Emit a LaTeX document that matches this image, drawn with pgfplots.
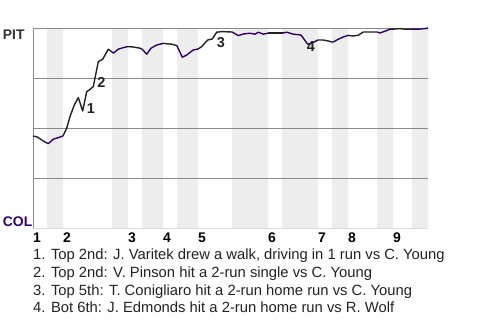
\documentclass[border=0pt]{standalone}
\usepackage{pgfplots}
\pgfplotsset{compat=1.18}
\usepackage{fontspec}
\setmainfont{Liberation Sans}

\definecolor{bandgray}{HTML}{EDEDED}
\definecolor{gridgray}{HTML}{8A8A8A}
\definecolor{pitblack}{HTML}{222222}
\definecolor{colpurple}{HTML}{33006F}
\definecolor{labgray}{HTML}{333333}

\pgfplotsset{
  tophalf/.style={color=pitblack, line width=1.4bp, line join=round, no marks},
  bothalf/.style={color=colpurple, line width=1.4bp, line join=round, no marks},
}

\begin{document}
\begin{tikzpicture}
\begin{axis}[
  set layers,
  at={(0,0)}, anchor=south west,
  scale only axis,
  width=395bp, height=200bp,
  xmin=0, xmax=395, ymin=0, ymax=100,
  clip=false,
  axis x line*=bottom, axis y line*=left,
  x axis line style={-, draw=gray!30, line width=0.8bp},
  y axis line style={-, draw=gridgray, line width=0.8bp},
  ytick={25,50,75,100}, yticklabels={},
  ymajorgrids, grid style={gridgray, line width=0.8bp},
  major tick length=0pt,
  xtick={0,30,95,130,165,235,285,315,360},
  xticklabels={\textbf{1},\textbf{2},\textbf{3},\textbf{4},\textbf{5},\textbf{6},\textbf{7},\textbf{8},\textbf{9}},
  xticklabel style={anchor=base west, inner sep=0pt, yshift=-14.7bp,
    font=\fontsize{14}{16}\selectfont\bfseries},
]
% inning bands (bottom halves)
\addplot[on layer=axis background, const plot, fill=bandgray, draw=none] coordinates {
  (0,0) (14,100) (30,0) (79,100) (95,0) (109,100) (130,0) (144,100) (165,0)
  (199,100) (235,0) (249,100) (285,0) (299,100) (315,0) (344,100) (360,0)
  (379,100) (395,100)} \closedcycle;

% win probability (PIT), by half inning
\addplot[tophalf] coordinates {(0,46) (4.3,45.5) (10.3,43.5) (14,42.5)};
\addplot[bothalf] coordinates {(14,42.5) (15.3,42.2) (20.3,44.4) (25.3,45.2) (30,46)};
\addplot[tophalf] coordinates {(30,46) (33.7,49.9) (37,55.7) (41.3,61.5) (45.3,65.2) (49.7,58.5)
  (53.7,68.2) (56.3,69) (60.3,70.7) (65.3,83.2) (69.7,84.4) (75.3,89.4) (79,88)};
\addplot[bothalf] coordinates {(79,88) (80.3,87.4) (85.3,89.4) (90.3,90.2) (95,90.7)};
\addplot[tophalf] coordinates {(95,90.7) (100.3,90.5) (107,89.9) (109,89.5)};
\addplot[bothalf] coordinates {(109,89.5) (113.7,86.9) (118,89.9) (123.7,91.5) (130,92.3)};
\addplot[tophalf] coordinates {(130,92.3) (138.7,91.9) (143.7,91.2) (144,91)};
\addplot[bothalf] coordinates {(144,91) (149.3,85.4) (153.7,86.5) (160.3,89) (165,89.5)};
\addplot[tophalf] coordinates {(165,89.5) (168.7,90.7) (174.7,94) (179.3,94.5) (183.7,97.9) (188.7,98.2) (199,98)};
\addplot[bothalf] coordinates {(199,98) (205.3,96.2) (210.3,97) (217,97.4) (222,96.9) (225.3,97.9) (230.3,96.9) (235,97.4)};
\addplot[tophalf] coordinates {(235,97.4) (248.7,97.4) (249,97.4)};
\addplot[bothalf] coordinates {(249,97.4) (253.7,97.9) (260.3,96.9) (268,96.5) (274.7,91.9) (278.7,92.4) (285,94)};
\addplot[tophalf] coordinates {(285,94) (290.3,94) (295.3,93.5) (299,93)};
\addplot[bothalf] coordinates {(299,93) (300.3,93) (305.3,94.4) (310.3,95.5) (315,96.3)};
\addplot[tophalf] coordinates {(315,96.3) (320.3,96) (325.3,96.4) (330.3,98) (337,98) (344,98)};
\addplot[bothalf] coordinates {(344,98) (347,97.5) (352,98.4) (357,99.4) (360,99.4)};
\addplot[tophalf] coordinates {(360,99.4) (367,99.7) (372,99.4) (379,99.4)};
\addplot[bothalf] coordinates {(379,99.4) (385.3,99.4) (392,99.7) (395,100)};

% key plays
\begin{scope}[every node/.style={anchor=base, inner sep=0pt, font=\fontsize{14.5}{16}\selectfont\bfseries, text=pitblack}]
\node at (axis cs:58,57.4) {1};
\node at (axis cs:68.3,70.2) {2};
\node at (axis cs:188,90.4) {3};
\node at (axis cs:278,88.2) {4};
\end{scope}
\end{axis}

\node[anchor=base west, inner sep=0pt, text=labgray, font=\fontsize{14}{16}\selectfont\bfseries] at (-30.3bp,188bp) {PIT};
\node[anchor=base west, inner sep=0pt, text=colpurple, font=\fontsize{14}{16}\selectfont\bfseries] at (-30.3bp,2bp) {COL};

\begin{scope}[every node/.style={anchor=base west, inner sep=0pt, font=\fontsize{14.85}{18}\selectfont, text=pitblack}]
\node at (0bp,-31.3bp) {1. Top 2nd: J. Varitek drew a walk, driving in 1 run vs C. Young};
\node at (0bp,-49.3bp) {2. Top 2nd: V. Pinson hit a 2-run single vs C. Young};
\node at (0bp,-67.3bp) {3. Top 5th: T. Conigliaro hit a 2-run home run vs C. Young};
\node at (0bp,-84.7bp) {4. Bot 6th: J. Edmonds hit a 2-run home run vs R. Wolf};
\end{scope}

\pgfresetboundingbox
\path[use as bounding box] (-33bp,-92bp) rectangle (447bp,228bp);
\end{tikzpicture}
\end{document}
